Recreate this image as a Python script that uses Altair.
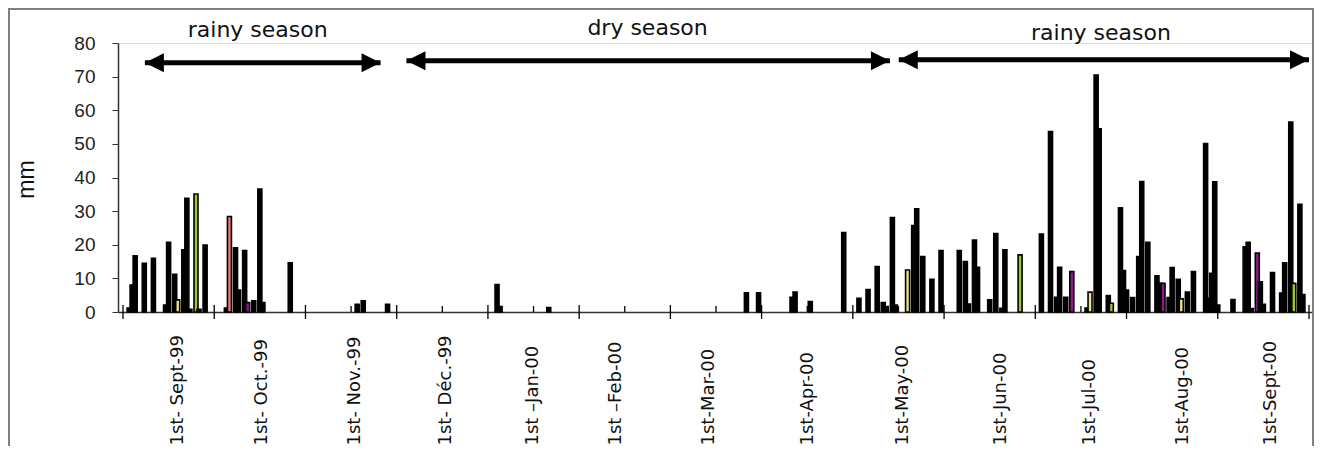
import json
import altair as alt
import pandas as pd

# ---- daily rainfall (position index along the record, mm, series) ----
days = [2, 3, 4, 7, 10, 14, 15, 17, 18, 20, 21, 22, 24, 25, 27, 34, 35, 37, 38, 40,
        41, 43, 45, 46, 55, 77, 79, 87, 123, 124, 140, 205, 209, 220, 221, 226, 237, 242,
        245, 248, 250, 251, 253, 254, 258, 260, 261, 263, 266, 269, 275, 277, 278, 280,
        281, 285, 287, 289, 290, 295, 302, 305, 307, 308, 310, 312, 317, 318, 320, 321,
        324, 325, 328, 329, 330, 332, 334, 335, 337, 340, 341, 342, 344, 345, 347, 348,
        350, 352, 356, 357, 358, 359, 360, 365, 369, 370, 371, 373, 374, 375, 378, 381,
        382, 384, 385, 387, 388]
rain = [1.2, 8.0, 16.7, 14.5, 16.0, 2.1, 20.7, 11.2, 3.6, 18.5, 33.8, 0.8, 35.1, 0.8, 19.9,
        1.2, 28.4, 19.1, 6.5, 18.3, 2.8, 3.3, 36.6, 2.8, 14.6, 2.3, 3.3, 2.3, 8.2, 1.6, 1.3,
        5.7, 5.7, 4.4, 5.9, 3.1, 23.6, 4.1, 6.7, 13.5, 2.8, 1.6, 28.1, 2.1, 12.5, 25.7, 30.7,
        16.5, 9.7, 18.3, 18.3, 15.0, 2.4, 21.4, 13.3, 3.6, 23.3, 1.1, 18.5, 17.0, 23.2, 53.7,
        4.4, 13.3, 4.4, 12.0, 1.2, 5.9, 70.5, 54.5, 4.9, 2.6, 31.0, 12.3, 6.5, 4.3, 16.5,
        38.8, 20.7, 10.8, 8.5, 8.5, 4.3, 13.2, 9.7, 3.9, 5.9, 12.0, 50.1, 4.1, 11.5, 38.7,
        2.1, 3.7, 19.4, 20.7, 1.0, 17.5, 9.0, 2.3, 11.7, 5.6, 14.6, 56.5, 8.5, 32.0, 5.2]
series = ["S1"] * len(days)
colored = {18: "S5", 24: "S2", 35: "S3", 41: "S4", 258: "S5", 295: "S2", 312: "S4",
           318: "S5", 325: "S2", 342: "S4", 348: "S5", 373: "S4", 385: "S2"}
series = [colored.get(d, s) for d, s in zip(days, series)]

# ---- axis labels ----
label_pos = [17.8, 45.7, 76.2, 106.1, 134.6, 161.9, 192.6, 225.2, 256.4, 288.4, 317.7, 348.3, 377.3]
label_txt = ["1st- Sept-99", "1st- Oct.-99", "1st- Nov.-99", "1st- Déc.-99", "1st \u2013Jan-00",
             "1st \u2013Feb-00", "1st-Mar-00", "1st-Apr-00", "1st-May-00", "1st-Jun-00",
             "1st-Jul-00", "1st-Aug-00", "1st-Sept-00"]
tick_major = list(range(0, 391, 30))
tick_minor = list(range(15, 391, 30))

# ---- season annotations ----
season_x = [44.3, 172.5, 321.6]
season_y = [83.9, 84.5, 83.0]
season_txt = ["rainy season", "dry season", "rainy season"]
arrow_start = [7.2, 93.2, 255.1]
arrow_end = [84.7, 252.2, 390.0]
arrow_y = [74.1, 74.7, 75.0]

W, H = 1196, 269
FONT = "Liberation Sans"
WIDE = "DejaVu Sans"

xscale = alt.Scale(domain=[0, 390], nice=False, zero=False)
yscale = alt.Scale(domain=[0, 80], nice=False)

bars_df = pd.DataFrame({"day": days, "mm": rain, "series": series})
major_df = pd.DataFrame({"day": tick_major})
minor_df = pd.DataFrame({"day": tick_minor})
season_df = pd.DataFrame({"day": season_x, "mm": season_y, "txt": season_txt})
arrow_df = pd.DataFrame({"day": arrow_start, "day_end": arrow_end, "mm": arrow_y})

label_expr = "{}[indexof({}, datum.value)]".format(
    json.dumps(label_txt, ensure_ascii=False), json.dumps(label_pos))

x_axis = alt.Axis(values=label_pos, labelExpr=label_expr, labelAngle=270, labelAlign="left",
                  labelBaseline="middle", labelPadding=133, ticks=False, tickSize=0,
                  grid=False, domainColor="#333333", domainWidth=1.5, labelFontSize=18,
                  labelFont=WIDE, labelColor="#111111", title=None, labelOverlap=False,
                  labelFlush=False)
y_axis = alt.Axis(values=list(range(0, 81, 10)), title="mm", titleFontSize=23, titleFont=FONT,
                  titleFontWeight="normal", titleAngle=270, titleX=-92, titleY=136,
                  titleAlign="center", titleBaseline="middle", titleColor="#111111",
                  labelFontSize=19, labelFont=FONT, labelPadding=17, labelColor="#222222",
                  tickSize=6, tickColor="#333333", domainColor="#333333", domainWidth=1.5,
                  grid=False)

X = lambda f: alt.X(f, scale=xscale, axis=x_axis)
Y = lambda f: alt.Y(f, scale=yscale, axis=y_axis)

color_scale = alt.Scale(domain=["S1", "S2", "S3", "S4", "S5"],
                        range=["#000000", "#9dc53b", "#f07878", "#8b1a8b", "#ebe08c"])

frame = alt.Chart(bars_df).mark_rect(filled=False, stroke="#808080", strokeWidth=1.5).encode(
    x=alt.value(-109.5), x2=alt.value(1195.5), y=alt.value(-34), y2=alt.value(520))

bars = alt.Chart(bars_df).mark_bar(size=4, stroke="black", strokeWidth=1.6).encode(
    x=X("day:Q"), y=Y("mm:Q"),
    color=alt.Color("series:N", scale=color_scale, legend=None),
)

major = alt.Chart(major_df).mark_tick(orient="vertical", size=14, thickness=1.3, color="black",
                                      opacity=1).encode(
    x=X("day:Q"), y=alt.YDatum(0, scale=yscale, axis=y_axis))
minor = alt.Chart(minor_df).mark_tick(orient="vertical", size=6, thickness=1.3, color="black",
                                      opacity=1, yOffset=-3).encode(
    x=X("day:Q"), y=alt.YDatum(0, scale=yscale, axis=y_axis))

shaft = alt.Chart(arrow_df).mark_rule(strokeWidth=5, color="black").encode(
    x=X("day:Q"), x2="day_end:Q", y=Y("mm:Q"))
head_r = alt.Chart(arrow_df).mark_point(shape="M1,0L-1,-1L-1,1Z", size=361, filled=True,
                                        color="black", opacity=1, xOffset=-9.5).encode(
    x=X("day_end:Q"), y=Y("mm:Q"))
head_l = alt.Chart(arrow_df).mark_point(shape="M-1,0L1,-1L1,1Z", size=361, filled=True,
                                        color="black", opacity=1, xOffset=9.5).encode(
    x=X("day:Q"), y=Y("mm:Q"))

texts = alt.Chart(season_df).mark_text(fontSize=22, font=WIDE, color="#111111",
                                       align="center", baseline="middle").encode(
    x=X("day:Q"), y=Y("mm:Q"), text="txt:N")

chart = alt.layer(bars, frame, major, minor, shaft, head_r, head_l, texts).properties(
    width=W, height=H,
    autosize=alt.AutoSizeParams(type="none"),
    padding={"left": 110, "top": 35, "right": 0, "bottom": 134},
).configure_view(strokeWidth=0, stroke="transparent").configure(font=FONT)

chart.save("out.html", embed_options={"renderer": "svg", "actions": False})
